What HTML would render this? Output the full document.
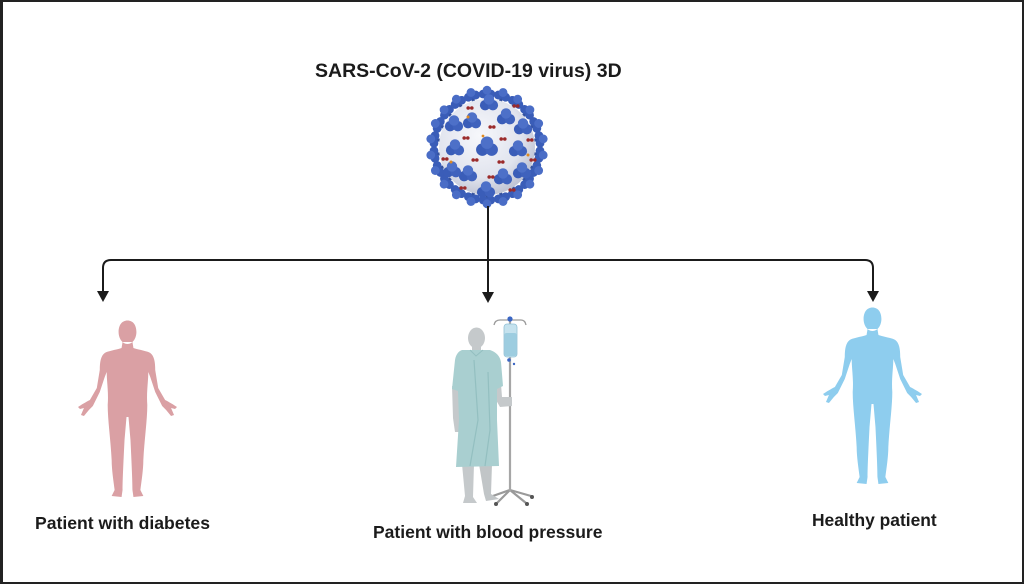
<!DOCTYPE html>
<html>
<head>
<meta charset="utf-8">
<style>
  html,body{margin:0;padding:0;background:#fff;}
  body{width:1027px;height:586px;overflow:hidden;position:relative;}
  svg{position:absolute;left:0;top:0;}
  .t{font-family:"Liberation Sans",Arial,sans-serif;font-weight:bold;fill:#1b1b1b;}
</style>
</head>
<body>
<svg width="1027" height="586" viewBox="0 0 1027 586" xmlns="http://www.w3.org/2000/svg">
  <defs>
    <radialGradient id="sph" cx="0.42" cy="0.38" r="0.62">
      <stop offset="0" stop-color="#f6f7fb"/>
      <stop offset="0.7" stop-color="#e1e4ee"/>
      <stop offset="1" stop-color="#c2c6d6"/>
    </radialGradient>
    <g id="spike">
      <rect x="485.4" y="94" width="3.2" height="8" fill="#34529f"/>
      <circle cx="483.2" cy="94" r="4.4" fill="#3a5db8"/>
      <circle cx="490.8" cy="94" r="4.4" fill="#3a5db8"/>
      <circle cx="487" cy="90.2" r="4.4" fill="#4a6dc6"/>
    </g>
    <g id="clu">
      <circle cx="-3.9" cy="2.2" r="5.2" fill="#3a5db8"/>
      <circle cx="3.9" cy="2.2" r="5.2" fill="#3f62bd"/>
      <circle cx="0" cy="-3.6" r="5.2" fill="#4d70c8"/>
    </g>
    <g id="red">
      <circle cx="-1.8" cy="0" r="1.8" fill="#9b2a2a"/>
      <circle cx="1.8" cy="0" r="1.8" fill="#9b2a2a"/>
    </g>
    <path id="human" d="M45 22 L44 28 C38 30 30 31 27 33 C23 36 22 42 22 50 L19 68 L12 80 C8 82 3 85 0 87 L2 89 L6 88 L3 95 L6 96 L11 90 L15 86 L22 72 L27 57 L29 52 C29 62 31 72 30 85 C30 100 33 120 34 140 C34 150 36 162 37 170 L34 176 L44 177 L45 170 C45 160 46 140 47 120 L49 97 L51 97 L53 120 C54 140 55 160 55 170 L56 177 L66 176 L63 170 C64 162 66 150 66 140 C67 120 70 100 70 85 C69 72 71 62 71 52 L73 57 L78 72 L85 86 L89 90 L94 96 L97 95 L94 88 L98 89 L100 87 C97 85 92 82 88 80 L81 68 L78 50 C78 42 77 36 73 33 C70 31 62 30 56 28 L55 22 Z M50 0.5 C55.5 0.5 59 5 59 12 C59 18 55.5 24 50 24 C44.5 24 41 18 41 12 C41 5 44.5 0.5 50 0.5 Z"/>
  </defs>

  <!-- frame -->
  <rect x="1" y="1" width="1022" height="582" fill="none" stroke="#222" stroke-width="2"/>
  <line x1="1.5" y1="0" x2="1.5" y2="584" stroke="#222" stroke-width="3"/>

  <!-- title -->
  <text class="t" x="315" y="77" font-size="19.5">SARS-CoV-2 (COVID-19 virus) 3D</text>

  <!-- virus -->
  <g>
    <g transform="rotate(0 487 147)"><use href="#spike"/></g>
    <g transform="rotate(16.4 487 147)"><use href="#spike"/></g>
    <g transform="rotate(32.7 487 147)"><use href="#spike"/></g>
    <g transform="rotate(49.1 487 147)"><use href="#spike"/></g>
    <g transform="rotate(65.5 487 147)"><use href="#spike"/></g>
    <g transform="rotate(81.8 487 147)"><use href="#spike"/></g>
    <g transform="rotate(98.2 487 147)"><use href="#spike"/></g>
    <g transform="rotate(114.5 487 147)"><use href="#spike"/></g>
    <g transform="rotate(130.9 487 147)"><use href="#spike"/></g>
    <g transform="rotate(147.3 487 147)"><use href="#spike"/></g>
    <g transform="rotate(163.6 487 147)"><use href="#spike"/></g>
    <g transform="rotate(180 487 147)"><use href="#spike"/></g>
    <g transform="rotate(196.4 487 147)"><use href="#spike"/></g>
    <g transform="rotate(212.7 487 147)"><use href="#spike"/></g>
    <g transform="rotate(229.1 487 147)"><use href="#spike"/></g>
    <g transform="rotate(245.5 487 147)"><use href="#spike"/></g>
    <g transform="rotate(261.8 487 147)"><use href="#spike"/></g>
    <g transform="rotate(278.2 487 147)"><use href="#spike"/></g>
    <g transform="rotate(294.5 487 147)"><use href="#spike"/></g>
    <g transform="rotate(310.9 487 147)"><use href="#spike"/></g>
    <g transform="rotate(327.3 487 147)"><use href="#spike"/></g>
    <g transform="rotate(343.6 487 147)"><use href="#spike"/></g>
    <circle cx="487" cy="147" r="48" fill="url(#sph)"/>
    <!-- interior clusters -->
    <g transform="translate(487 147) scale(1.2)"><use href="#clu"/></g>
    <g transform="translate(472 121)"><use href="#clu"/></g>
    <g transform="translate(506 117)"><use href="#clu"/></g>
    <g transform="translate(455 148)"><use href="#clu"/></g>
    <g transform="translate(518 149)"><use href="#clu"/></g>
    <g transform="translate(468 174)"><use href="#clu"/></g>
    <g transform="translate(503 177)"><use href="#clu"/></g>
    <g transform="translate(454 124)"><use href="#clu"/></g>
    <g transform="translate(523 127)"><use href="#clu"/></g>
    <g transform="translate(489 103)"><use href="#clu"/></g>
    <g transform="translate(486 190)"><use href="#clu"/></g>
    <g transform="translate(452 170)"><use href="#clu"/></g>
    <g transform="translate(522 171)"><use href="#clu"/></g>
    <!-- red dots -->
    <g transform="translate(470 108)"><use href="#red"/></g>
    <g transform="translate(492 127)"><use href="#red"/></g>
    <g transform="translate(516 106)"><use href="#red"/></g>
    <g transform="translate(466 138)"><use href="#red"/></g>
    <g transform="translate(503 139)"><use href="#red"/></g>
    <g transform="translate(530 140)"><use href="#red"/></g>
    <g transform="translate(475 160)"><use href="#red"/></g>
    <g transform="translate(501 162)"><use href="#red"/></g>
    <g transform="translate(463 188)"><use href="#red"/></g>
    <g transform="translate(491 177)"><use href="#red"/></g>
    <g transform="translate(512 190)"><use href="#red"/></g>
    <g transform="translate(445 159)"><use href="#red"/></g>
    <g transform="translate(533 160)"><use href="#red"/></g>
    <circle cx="468" cy="117" r="1.5" fill="#e08a20"/>
    <circle cx="528" cy="155" r="1.5" fill="#e08a20"/>
    <circle cx="451" cy="162" r="1.5" fill="#e08a20"/>
    <circle cx="483" cy="136" r="1.4" fill="#e08a20"/>
  </g>

  <!-- connectors -->
  <g fill="none" stroke="#1b1b1b" stroke-width="2">
    <path d="M488 206 V294"/>
    <path d="M488 260 H111 Q103 260 103 268 V293"/>
    <path d="M488 260 H865 Q873 260 873 268 V293"/>
  </g>
  <g fill="#1b1b1b">
    <polygon points="97,291 109,291 103,302"/>
    <polygon points="482,292 494,292 488,303"/>
    <polygon points="867,291 879,291 873,302"/>
  </g>

  <!-- left human (pink) -->
  <g transform="translate(78 320) scale(0.99 1)"><use href="#human" fill="#daa0a4"/></g>
  <!-- right human (blue) -->
  <g transform="translate(823 307) scale(0.99 1)"><use href="#human" fill="#8ecdee"/></g>

  <!-- middle patient with IV pole -->
  <g>
    <g stroke="#9a9a9a" stroke-width="2.2" fill="none" stroke-linecap="round">
      <line x1="510" y1="490" x2="490" y2="497"/>
      <line x1="510" y1="490" x2="531" y2="496"/>
      <line x1="510" y1="490" x2="497" y2="503"/>
      <line x1="510" y1="490" x2="526" y2="503"/>
    </g>
    <g fill="#555">
      <circle cx="489" cy="498" r="2"/>
      <circle cx="532" cy="497" r="2"/>
      <circle cx="496" cy="504" r="2"/>
      <circle cx="527" cy="504" r="2"/>
    </g>
    <line x1="510" y1="320" x2="510" y2="491" stroke="#a6a6a6" stroke-width="2.2"/>
    <path d="M494 325 Q495 320 500 320 L521 320 Q525 320 526 325" fill="none" stroke="#9a9a9a" stroke-width="1.3"/>
    <circle cx="510" cy="319" r="2.6" fill="#3a66c4"/>
    <rect x="504" y="324" width="13" height="33" rx="3" fill="#c5e2ee" stroke="#93c2d6" stroke-width="0.8"/>
    <rect x="504.5" y="333" width="12" height="23" rx="2" fill="#9dcde0"/>
    <circle cx="509" cy="360" r="1.8" fill="#3a66c4"/>
    <circle cx="514" cy="364" r="1.2" fill="#3a66c4"/>
    <rect x="472" y="344" width="9" height="9" fill="#c5c9cb"/>
    <ellipse cx="476.5" cy="338" rx="8.5" ry="10.5" fill="#c5c9cb"/>
    <path d="M462 464 L474 464 L473 497 L477 503 L463 503 L465 496 Z" fill="#c5c9cb"/>
    <path d="M479 464 L492 464 L491 494 L499 499 L486 501 L484 494 Z" fill="#c1c5c7"/>
    <path d="M452 386 L459 388 L461 420 L460 432 L455 432 L453 418 Z" fill="#c5c9cb"/>
    <path d="M496 384 L501 384 L502 397 L512 397 L512 406 L500 407 L496 400 Z" fill="#c5c9cb"/>
    <path d="M462 350 L490 350 C496 352 500 356 501 362 L503 386 L497 389 L497 420 L499 466 L456 467 L459 420 L458 391 L452 389 L455 360 C456 354 459 351 462 350 Z" fill="#a9cfd0"/>
    <path d="M474 360 L478 420 L470 466 M488 372 L490 430 L485 466" stroke="#93bfc0" stroke-width="1.2" fill="none"/>
    <path d="M470 350 L476 356 L483 350" stroke="#93bfc0" stroke-width="1" fill="none"/>
  </g>

  <!-- labels -->
  <text class="t" x="35" y="529" font-size="17.6">Patient with diabetes</text>
  <text class="t" x="373" y="538" font-size="17.5">Patient with blood pressure</text>
  <text class="t" x="812" y="526" font-size="17.4">Healthy patient</text>
</svg>
</body>
</html>
